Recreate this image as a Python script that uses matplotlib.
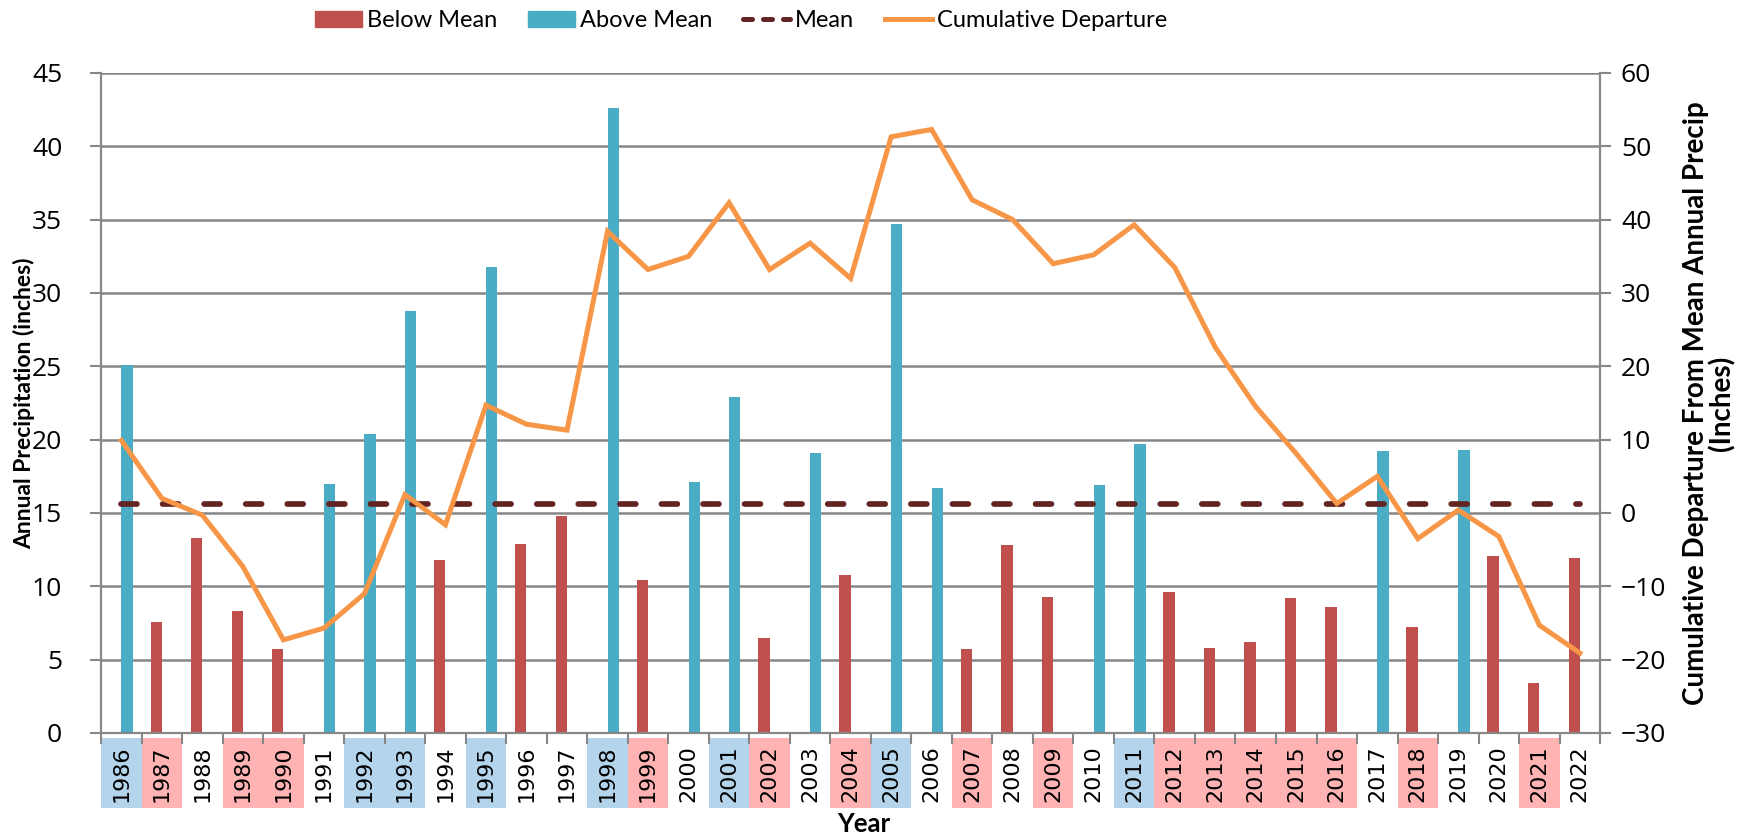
import matplotlib
matplotlib.use('Agg')
import matplotlib.pyplot as plt
from matplotlib.patches import Rectangle, Patch
from matplotlib.lines import Line2D
from matplotlib.transforms import blended_transform_factory
import numpy as np

years = list(range(1986, 2023))
precip = [25.1, 7.6, 13.3, 8.3, 5.7, 17.0, 20.4, 28.8, 11.8, 31.8,
          12.9, 14.8, 42.6, 10.4, 17.1, 22.9, 6.5, 19.1, 10.8, 34.7,
          16.7, 5.7, 12.8, 9.3, 16.9, 19.7, 9.6, 5.8, 6.2, 9.2,
          8.6, 19.2, 7.2, 19.3, 12.1, 3.4, 11.9]
cum_dep = [9.9, 2.0, -0.3, -7.3, -17.3, -15.7, -11.0, 2.5, -1.6, 14.7,
           12.1, 11.3, 38.4, 33.2, 35.0, 42.3, 33.2, 36.8, 32.0, 51.3,
           52.3, 42.7, 40.0, 34.0, 35.2, 39.3, 33.5, 22.6, 14.5, 8.1,
           1.3, 5.0, -3.5, 0.4, -3.2, -15.3, -19.1]
mean_precip = 15.6

# years highlighted under the axis
wet_years = [1986, 1992, 1993, 1995, 1998, 2001, 2005, 2011]
dry_years = [1987, 1989, 1990, 1999, 2002, 2004, 2007, 2009, 2012, 2013,
             2014, 2015, 2016, 2018, 2021]

red = '#c0504d'
blue = '#4bacc6'
orange = '#f79646'
brown = '#632523'
grey = '#878787'

x = np.arange(len(years))
below = [p if p < mean_precip else 0 for p in precip]
above = [p if p >= mean_precip else 0 for p in precip]

fig = plt.figure(figsize=(17.64, 8.38), dpi=100)
ax = fig.add_axes([0.0573, 0.1253, 0.8498, 0.7876])
ax2 = ax.twinx()

bw = 0.28
ax.bar(x - bw / 2, below, bw, color=red, zorder=2)
ax.bar(x + bw / 2, above, bw, color=blue, zorder=2)
ax.plot(x, [mean_precip] * len(x), color=brown, lw=4.1,
        dashes=(2.8, 4.5), dash_capstyle='round', zorder=3)
ax2.plot(x, cum_dep, color=orange, lw=3.6, solid_joinstyle='miter', zorder=4)

ax.set_xlim(-0.5, len(x) - 0.5)
ax.set_ylim(0, 45)
ax.set_yticks(np.arange(0, 46, 5))
ax2.set_ylim(-30, 60)
ax2.set_yticks(np.arange(-30, 61, 10))
ax.yaxis.grid(True, color=grey, lw=1.8)
ax.set_axisbelow(True)

for a in (ax, ax2):
    for s in a.spines.values():
        s.set_color(grey)
        s.set_linewidth(1.5)
    a.spines['top'].set_visible(False)

ax.tick_params(axis='y', length=8, width=1.5, color=grey, pad=20)
ax2.tick_params(axis='y', length=8, width=1.5, color=grey, pad=7)
for lab in ax.get_yticklabels() + ax2.get_yticklabels():
    lab.set_fontfamily('Open Sans')
    lab.set_fontsize(19)

ax.set_xticks(x)
ax.set_xticklabels([str(y) for y in years], rotation=90, fontsize=16)
ax.tick_params(axis='x', which='major', length=0, pad=9)
ax.set_xticks(np.arange(-0.5, len(x), 1), minor=True)
ax.tick_params(axis='x', which='minor', length=8, width=1.5, color=grey)

trans = blended_transform_factory(ax.transData, ax.transAxes)
for i, yr in enumerate(years):
    if yr in wet_years:
        c = '#b4d4ec'
    elif yr in dry_years:
        c = '#ffb3b3'
    else:
        continue
    ax.add_patch(Rectangle((i - 0.5, -0.114), 1.0, 0.106, transform=trans,
                           facecolor=c, edgecolor='none', clip_on=False,
                           zorder=0))

ax.set_ylabel('Annual Precipitation (inches)', family='Lato',
              weight='bold', size=16.5)
ax.yaxis.set_label_coords(-0.044, 0.5)
ax2.set_ylabel('Cumulative Departure From Mean Annual Precip\n(Inches)',
               multialignment='center', linespacing=1.0, family='Lato',
               weight='bold', size=20)
ax2.yaxis.set_label_coords(1.055, 0.5)
ax.set_xlabel('Year', family='Lato', weight='bold', size=18.5)
ax.xaxis.set_label_coords(0.509, -0.119)

handles = [Patch(color=red), Patch(color=blue),
           Line2D([], [], color=brown, lw=3.6, dashes=(1.8, 2.2),
                  dash_capstyle='round'),
           Line2D([], [], color=orange, lw=3.6)]
fig.legend(handles, ['Below Mean', 'Above Mean', 'Mean', 'Cumulative Departure'],
           loc='center', bbox_to_anchor=(0.42, 0.975), ncol=4, frameon=False,
           prop=dict(family='Lato', size=17), handlelength=2.0,
           handletextpad=0.2, columnspacing=1.3)

fig.savefig('out.png', dpi=100)
